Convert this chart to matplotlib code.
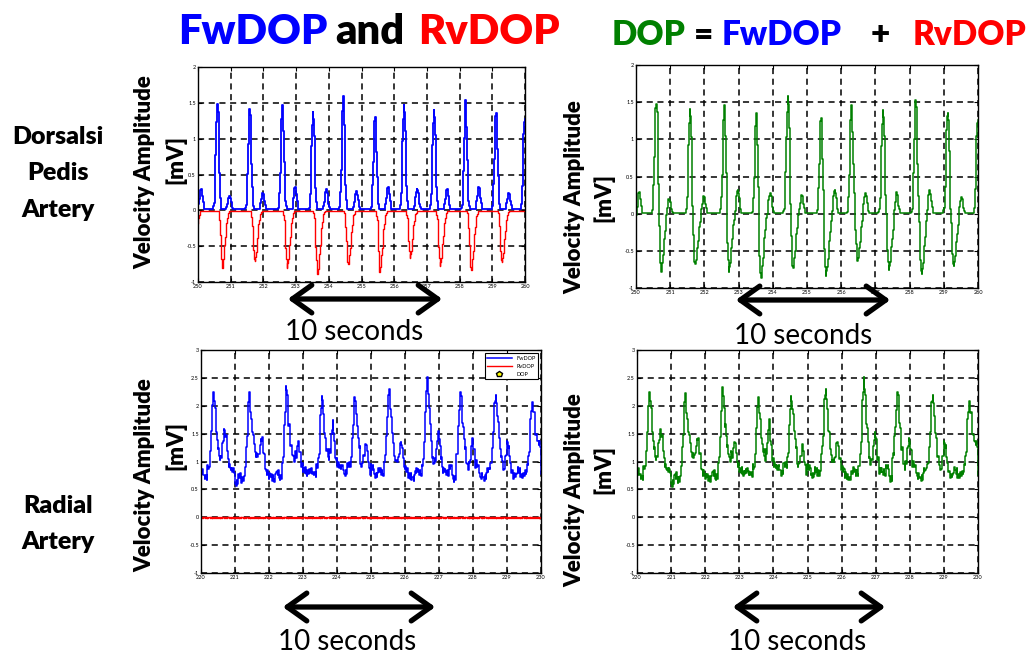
import numpy as np
import matplotlib.pyplot as plt
from matplotlib.patches import FancyArrowPatch
from matplotlib.ticker import FormatStrFormatter

plt.rcParams['font.family'] = ['Lato', 'DejaVu Sans']

# ---------------- Daten ----------------
# Dorsalis pedis, 250..260 s
top_t0, top_t1 = 250, 260
fw_peak_t_top = [250.59, 251.58, 252.58, 253.52, 254.44, 255.41, 256.30, 257.22, 258.18, 259.11, 259.99]
fw_peak_top = [1.53, 1.42, 1.47, 1.37, 1.59, 1.34, 1.47, 1.40, 1.54, 1.41, 1.32]
fw_sec_t_top = [250.10, 250.97, 251.99, 252.98, 253.93, 254.85, 255.82, 256.71, 257.62, 258.59, 259.51]
fw_sec_top = [0.30, 0.21, 0.25, 0.33, 0.30, 0.27, 0.33, 0.30, 0.30, 0.33, 0.25]
rv_trough_t_top = [249.86, 250.74, 251.73, 252.72, 253.65, 254.59, 255.56, 256.48, 257.40, 258.35, 259.29]
rv_trough_top = [-0.80, -0.80, -0.73, -0.80, -0.92, -0.78, -0.86, -0.66, -0.78, -0.86, -0.75]

# Pulsformen (Zeitversatz [s], Anteil der Amplitude)
fw_main_dt = [-0.13, -0.09, -0.06, -0.03, 0.00, 0.03, 0.06, 0.09, 0.13]
fw_main_fr = [0.00, 0.05, 0.35, 0.80, 1.00, 0.90, 0.45, 0.10, 0.00]
fw_sec_dt = [-0.10, -0.05, -0.02, 0.00, 0.03, 0.06, 0.10]
fw_sec_fr = [0.00, 0.60, 0.95, 1.00, 0.80, 0.35, 0.00]
rv_dt = [-0.12, -0.08, -0.05, -0.02, 0.00, 0.04, 0.08, 0.12, 0.17, 0.22]
rv_fr = [0.00, 0.15, 0.55, 0.85, 1.00, 0.85, 0.60, 0.30, 0.08, 0.00]

# Radialis, 220..230 s
bot_t0, bot_t1 = 220, 230
fw_peak_t_bot = [220.37, 221.42, 222.51, 223.57, 224.53, 225.53, 226.66, 227.64, 228.67, 229.75]
fw_peak_bot = [2.35, 2.22, 2.38, 2.08, 2.12, 2.22, 2.42, 2.18, 2.15, 2.10]
fw_sec_t_bot = [220.70, 221.78, 222.86, 223.88, 224.86, 225.89, 226.98, 227.99, 229.02, 229.95]
fw_sec_bot = [1.60, 1.50, 1.45, 1.78, 1.52, 1.50, 1.65, 1.58, 1.52, 1.28]
# Grundlinie alle 0.1 s
base_bot = [0.82, 0.72, 0.88, 0.92, 1.00, 1.05, 1.00, 0.98, 0.90, 0.85,
            0.62, 0.75, 0.68, 0.85, 1.00, 1.20, 1.10, 0.92, 0.95, 0.80,
            0.75, 0.70, 0.80, 0.72, 0.78, 1.00, 1.10, 1.05, 0.90, 0.88,
            0.85, 0.80, 0.84, 0.78, 0.90, 1.10, 1.00, 1.05, 0.92, 0.85,
            0.95, 0.90, 0.80, 0.95, 0.90, 1.05, 1.10, 0.92, 0.80, 0.75,
            0.90, 0.75, 0.85, 0.80, 0.95, 1.10, 1.15, 1.00, 0.90, 0.80,
            0.85, 0.75, 0.70, 0.85, 0.80, 0.90, 1.05, 1.10, 0.92, 0.85,
            0.90, 0.85, 0.80, 0.90, 0.70, 1.00, 1.10, 1.05, 0.90, 0.85,
            0.80, 0.90, 0.75, 0.70, 0.85, 0.92, 1.05, 1.10, 1.00, 0.80,
            0.85, 0.80, 0.75, 0.85, 0.75, 0.80, 0.92, 1.00, 1.10, 1.05, 0.65]
bot_jitter = [0.03, -0.05, 0.05, -0.02, -0.06, 0.04, -0.03, 0.02]
rv_bot_jitter = [0.0, -0.01, 0.005, -0.015, 0.0, 0.01, -0.01]

bot_main_dt = [-0.15, -0.10, -0.06, -0.03, 0.00, 0.03, 0.07, 0.12, 0.17, 0.22]
bot_main_fr = [0.00, 0.15, 0.55, 0.85, 1.00, 0.85, 0.50, 0.20, 0.05, 0.00]
bot_sec_dt = [-0.12, -0.06, -0.02, 0.00, 0.04, 0.08, 0.14]
bot_sec_fr = [0.00, 0.50, 0.90, 1.00, 0.75, 0.30, 0.00]

xticks_top = list(range(250, 261))
xticks_bot = list(range(220, 231))
yticks_top = [-1, -0.5, 0, 0.5, 1, 1.5, 2]
yticks_bot = [-1, -0.5, 0, 0.5, 1, 1.5, 2, 2.5, 3]


def pulses(t, centers, amps, dts, frs):
    out = np.zeros_like(t)
    for c, a in zip(centers, amps):
        out += a * np.interp(t - c, dts, frs, left=0, right=0)
    return out


dt = 0.02
t_top = top_t0 + np.arange(501) * dt
fw_top = 0.02 + pulses(t_top, fw_peak_t_top, np.array(fw_peak_top) - 0.02, fw_main_dt, fw_main_fr) \
    + pulses(t_top, fw_sec_t_top, np.array(fw_sec_top) - 0.02, fw_sec_dt, fw_sec_fr)
rv_top = -0.01 + pulses(t_top, rv_trough_t_top, np.array(rv_trough_top) + 0.01, rv_dt, rv_fr)
dop_top = fw_top + rv_top

t_bot = bot_t0 + np.arange(501) * dt
base = np.repeat(base_bot, 5)[:len(t_bot)] + np.resize(bot_jitter, len(t_bot))
fw_bot = base + pulses(t_bot, fw_peak_t_bot, np.array(fw_peak_bot) - 1.0, bot_main_dt, bot_main_fr) \
    + pulses(t_bot, fw_sec_t_bot, np.array(fw_sec_bot) - 1.0, bot_sec_dt, bot_sec_fr)
rv_bot = np.resize(rv_bot_jitter, len(t_bot))
dop_bot = fw_bot + rv_bot

# ---------------- Figur ----------------
W, H = 1029, 658
fig = plt.figure(figsize=(W / 100, H / 100), dpi=100)


def px(x0, y0, x1, y1):
    return [x0 / W, 1 - y1 / H, (x1 - x0) / W, (y1 - y0) / H]


def style(ax, xlim, xticks, ylim, yticks):
    ax.set_xlim(xlim)
    ax.set_ylim(ylim)
    ax.set_xticks(xticks)
    ax.set_yticks(yticks)
    ax.yaxis.set_major_formatter(FormatStrFormatter('%g'))
    ax.tick_params(direction='in', length=3, width=0.8, labelsize=4, pad=1.5,
                   top=True, right=True)
    ax.grid(True, color='black', linestyle=(0, (4, 3)), linewidth=1.1)
    for s in ax.spines.values():
        s.set_linewidth(1.0)


ax1 = fig.add_axes(px(198, 67, 525, 282))
ax1.plot(t_top, fw_top, color='blue', lw=1.3, drawstyle='steps-mid')
ax1.plot(t_top, rv_top, color='red', lw=1.0, drawstyle='steps-mid')
style(ax1, (top_t0, top_t1), xticks_top, (-1, 2), yticks_top)

ax2 = fig.add_axes(px(636, 65, 978, 288))
ax2.plot(t_top, dop_top, color='green', lw=1.1, drawstyle='steps-mid')
style(ax2, (top_t0, top_t1), xticks_top, (-1, 2), yticks_top)

ax3 = fig.add_axes(px(201, 350, 541, 573))
l1, = ax3.plot(t_bot, fw_bot, color='blue', lw=1.1, drawstyle='steps-mid')
l2, = ax3.plot(t_bot, rv_bot, color='red', lw=1.0, drawstyle='steps-mid')
l3, = ax3.plot([], [], linestyle='none', marker='p', markersize=4,
               markerfacecolor='yellow', markeredgecolor='black')
style(ax3, (bot_t0, bot_t1), xticks_bot, (-1, 3), yticks_bot)
leg = ax3.legend([l1, l2, l3], ['FwDOP', 'RvDOP', 'DOP'], loc='upper right',
                 fontsize=4, fancybox=False, framealpha=1, edgecolor='black',
                 handlelength=4.5, borderaxespad=0.6, labelspacing=0.6)
leg.get_frame().set_linewidth(0.8)

ax4 = fig.add_axes(px(637, 350, 978, 573))
ax4.plot(t_bot, dop_bot, color='green', lw=1.1, drawstyle='steps-mid')
style(ax4, (bot_t0, bot_t1), xticks_bot, (-1, 3), yticks_bot)


def ftext(x, y, s, **kw):
    fig.text(x / W, 1 - y / H, s, **kw)


# Titel
for x, s, c in [(178, 'FwDOP', 'blue'), (335, 'and', 'black'), (418, 'RvDOP', 'red')]:
    ftext(x, 32, s, color=c, fontsize=30, fontweight='heavy', va='center', ha='left')
for x, s, c in [(612, 'DOP', 'green'), (694, '=', 'black'), (722, 'FwDOP', 'blue'),
                (871, '+', 'black'), (913, 'RvDOP', 'red')]:
    ftext(x, 35, s, color=c, fontsize=24, fontweight='heavy', va='center', ha='left')

# Zeilenbeschriftung
for y, s in [(137, 'Dorsalsi'), (173, 'Pedis'), (210, 'Artery'), (506, 'Radial'), (542, 'Artery')]:
    ftext(58, y, s, fontsize=18, fontweight='heavy', ha='center', va='center')

# y-Achsenbeschriftung
for xv, yv, xm, ym in [(145, 172, 176, 160), (575, 197, 604, 197),
                       (145, 475, 176, 445), (575, 490, 604, 470)]:
    ftext(xv, yv, 'Velocity Amplitude', fontsize=16, fontweight='heavy',
          rotation=90, ha='center', va='center')
    ftext(xm, ym, '[mV]', fontsize=16, fontweight='heavy',
          rotation=90, ha='center', va='center')

# 10-Sekunden-Pfeile
for x0, x1, ya, xt, yt in [(285, 445, 299, 354, 332), (733, 893, 300, 803, 336),
                           (280, 438, 607, 347, 642), (730, 888, 607, 797, 642)]:
    arr = FancyArrowPatch((x0 / W, 1 - ya / H), (x1 / W, 1 - ya / H),
                          transform=fig.transFigure,
                          arrowstyle='<->,head_length=0.7,head_width=0.5',
                          mutation_scale=20, lw=3.8, color='black')
    fig.add_artist(arr)
    ftext(xt, yt, '10 seconds', fontsize=20, ha='center', va='center')

fig.savefig('out.png', dpi=100)
